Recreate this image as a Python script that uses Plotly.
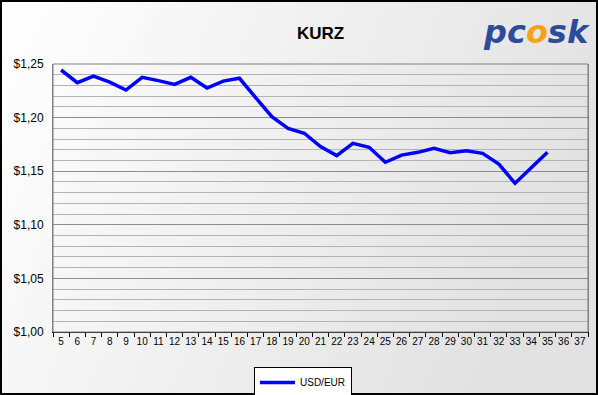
import base64
import plotly.graph_objects as go

categories = [str(i) for i in range(5, 38)]
weeks = [str(i) for i in range(5, 36)]
usd_eur = [1.2444, 1.2326, 1.2388, 1.2330, 1.2257, 1.2376, 1.2345, 1.2310, 1.2376, 1.2276,
           1.2340, 1.2367, 1.2187, 1.2008, 1.1900, 1.1854, 1.1729, 1.1646, 1.1760, 1.1723,
           1.1583, 1.1650, 1.1676, 1.1714, 1.1673, 1.1691, 1.1667, 1.1567, 1.1387, 1.1536,
           1.1676]
ytick_vals = [1.00, 1.05, 1.10, 1.15, 1.20, 1.25]
ytick_text = ["$1,00", "$1,05", "$1,10", "$1,15", "$1,20", "$1,25"]

W, H = 598, 395
L, R, T, B = 53, 10, 64, 63
pw, ph = W - L - R, H - T - B

svg = f'''<svg xmlns="http://www.w3.org/2000/svg" width="{W}" height="{H}" viewBox="0 0 {W} {H}" preserveAspectRatio="none">
<defs><linearGradient id="g" x1="0" y1="0" x2="1" y2="0.3">
<stop offset="0" stop-color="#ffffff"/><stop offset="1" stop-color="#e2e2e2"/></linearGradient></defs>
<rect x="0" y="0" width="{W}" height="{H}" fill="url(#g)"/>
<rect x="1" y="1" width="{W-2}" height="{H-2}" fill="none" stroke="#000" stroke-width="2"/>
</svg>'''
src = "data:image/svg+xml;base64," + base64.b64encode(svg.encode()).decode()

fig = go.Figure()
fig.add_trace(go.Scatter(x=weeks, y=usd_eur, mode="lines", name="USD/EUR",
                         line=dict(color="#0000ff", width=3.5)))

fig.add_layout_image(dict(source=src, xref="paper", yref="paper",
                          x=-L / pw, y=1 + T / ph, sizex=W / pw, sizey=H / ph,
                          xanchor="left", yanchor="top", sizing="stretch", layer="below"))

fig.update_layout(
    width=W, height=H,
    margin=dict(l=L, r=R, t=T, b=B, autoexpand=False),
    paper_bgcolor="white", plot_bgcolor="#c0c0c0",
    font=dict(family="Liberation Sans, Arial", color="black"),
    title=dict(text="<b>KURZ</b>", x=0.5, xref="paper", xanchor="center",
               y=1 - 33 / H, yanchor="middle", font=dict(size=17, color="black")),
    showlegend=True,
    legend=dict(xref="container", x=303 / W, xanchor="center",
                yref="container", y=1 - 367 / H, yanchor="top",
                bgcolor="white", bordercolor="black", borderwidth=1,
                font=dict(size=10), itemwidth=35, tracegroupgap=0),
    xaxis=dict(type="category", categoryorder="array", categoryarray=categories,
               range=[-0.5, len(categories) - 0.5], tickson="boundaries",
               ticks="outside", ticklen=4, tickcolor="black", tickwidth=1, tickangle=0,
               showline=True, linecolor="black", linewidth=1, mirror=False,
               showgrid=False, tickfont=dict(size=10), fixedrange=True),
    yaxis=dict(range=[1.0, 1.25], tickvals=ytick_vals, ticktext=ytick_text,
               tickfont=dict(size=12), showline=True, linecolor="#808080", linewidth=1,
               mirror=True, showgrid=True, gridcolor="#8c8c8c", gridwidth=1,
               ticks="outside", ticklen=6, tickcolor="rgba(0,0,0,0)",
               zeroline=False,
               minor=dict(dtick=0.01, tick0=1.0, showgrid=True, gridcolor="#b3b3b3", gridwidth=1)),
)

fig.add_shape(type="rect", xref="paper", yref="paper", x0=0, y0=0, x1=1, y1=1,
              line=dict(color="#808080", width=1), layer="above")

fig.add_annotation(text="<b><i>pc<span style='color:#f7a21b'>o</span>sk</i></b>",
                   xref="paper", yref="paper", x=(536 - L) / pw, y=1 + (T - 32) / ph,
                   showarrow=False, xanchor="center", yanchor="middle",
                   font=dict(family="DejaVu Sans", size=32, color="#2d4b9b"))

fig.write_html("out.html")
